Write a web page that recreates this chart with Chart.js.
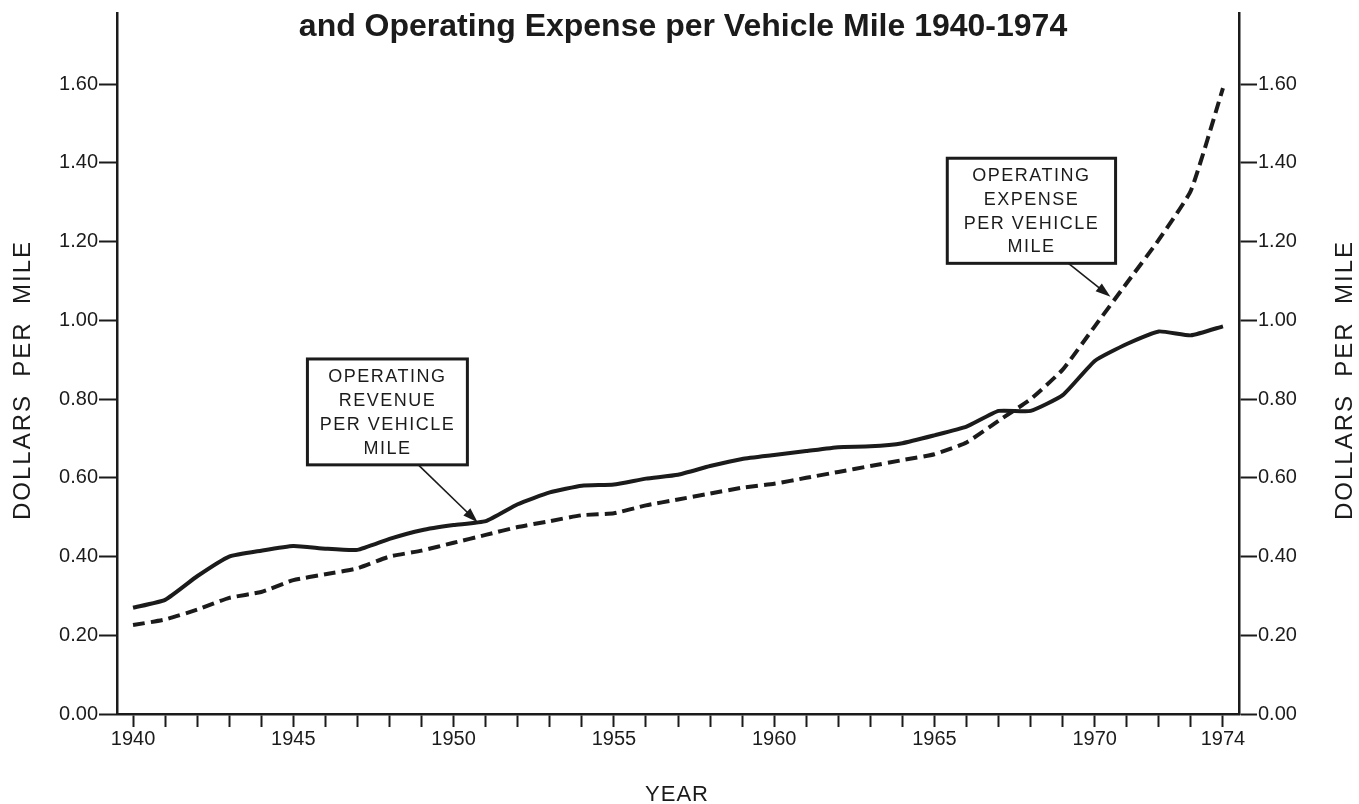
<!DOCTYPE html>
<html>
<head>
<meta charset="utf-8">
<script src="https://cdn.jsdelivr.net/npm/chart.js@4/dist/chart.umd.min.js"></script>
<style>
  html, body { margin: 0; padding: 0; background: #fff; }
  #wrap { width: 1359px; height: 804px; position: relative; }
</style>
</head>
<body>
<div id="wrap"><canvas id="chart"></canvas></div>
<script>
// values
const years = [1940, 1941, 1942, 1943, 1944, 1945, 1946, 1947, 1948, 1949,
               1950, 1951, 1952, 1953, 1954, 1955, 1956, 1957, 1958, 1959,
               1960, 1961, 1962, 1963, 1964, 1965, 1966, 1967, 1968, 1969,
               1970, 1971, 1972, 1973, 1974];

const revenue = [0.27, 0.29, 0.35, 0.40, 0.415, 0.427, 0.42, 0.417, 0.445, 0.467,
                 0.48, 0.49, 0.533, 0.563, 0.58, 0.583, 0.598, 0.608, 0.63, 0.648,
                 0.658, 0.668, 0.678, 0.68, 0.688, 0.708, 0.73, 0.77, 0.77, 0.81,
                 0.897, 0.94, 0.972, 0.962, 0.985];

const expense = [0.226, 0.24, 0.265, 0.295, 0.31, 0.34, 0.355, 0.37, 0.40, 0.415,
                 0.435, 0.455, 0.475, 0.49, 0.505, 0.51, 0.53, 0.545, 0.56, 0.575,
                 0.585, 0.60, 0.615, 0.63, 0.645, 0.66, 0.69, 0.745, 0.80, 0.875,
                 0.985, 1.095, 1.205, 1.33, 1.59];

const yTicks = [0, 0.2, 0.4, 0.6, 0.8, 1.0, 1.2, 1.4, 1.6];
const xLabelYears = [1940, 1945, 1950, 1955, 1960, 1965, 1970, 1974];

const titleText = 'and Operating Expense per Vehicle Mile 1940-1974';
const yTitle = 'DOLLARS  PER  MILE';
const xTitle = 'YEAR';
const revenueNote = ['OPERATING', 'REVENUE', 'PER VEHICLE', 'MILE'];
const expenseNote = ['OPERATING', 'EXPENSE', 'PER VEHICLE', 'MILE'];

const INK = '#1b1b1b';
const FONT = '"Liberation Sans", Arial, Helvetica, sans-serif';

// callout boxes, placed in data units (year, dollars)
const notes = [
    { lines: revenueNote, x0: 1945.44, x1: 1950.43, yTop: 0.902, yBot: 0.633,
      arrow: [1948.9, 0.633, 1950.75, 0.487] },
    { lines: expenseNote, x0: 1965.4, x1: 1970.65, yTop: 1.412, yBot: 1.145,
      arrow: [1969.18, 1.145, 1970.49, 1.06] },
];

const fixedSize = px => scale => {
    if (scale.isHorizontal()) scale.height = px; else scale.width = px;
};

const drawArrow = (ctx, x0, y0, x1, y1) => {
    const ang = Math.atan2(y1 - y0, x1 - x0);
    const len = 15, half = 5;
    ctx.beginPath();
    ctx.moveTo(x0, y0);
    ctx.lineTo(x1 - Math.cos(ang) * len * 0.8, y1 - Math.sin(ang) * len * 0.8);
    ctx.lineWidth = 1.6;
    ctx.strokeStyle = INK;
    ctx.stroke();
    ctx.beginPath();
    ctx.moveTo(x1, y1);
    ctx.lineTo(x1 - Math.cos(ang) * len + Math.sin(ang) * half, y1 - Math.sin(ang) * len - Math.cos(ang) * half);
    ctx.lineTo(x1 - Math.cos(ang) * len - Math.sin(ang) * half, y1 - Math.sin(ang) * len + Math.cos(ang) * half);
    ctx.closePath();
    ctx.fillStyle = INK;
    ctx.fill();
};

const decorations = {
    id: 'decorations',
    afterDraw(chart) {
        const ctx = chart.ctx;
        const xs = chart.scales.x, ys = chart.scales.y;
        ctx.save();
        ctx.fillStyle = INK;

        // title (first line is cut off in the scan)
        ctx.font = 'bold 32px ' + FONT;
        ctx.textAlign = 'center';
        ctx.textBaseline = 'middle';
        ctx.fillText(titleText, 683, 27);

        // axis titles
        ctx.font = '22px ' + FONT;
        ctx.letterSpacing = '1px';
        ctx.fillText(xTitle, 677, 795);
        ctx.font = '24px ' + FONT;
        ctx.letterSpacing = '2px';
        [23, 1345].forEach(cx => {
            ctx.save();
            ctx.translate(cx, 380);
            ctx.rotate(-Math.PI / 2);
            ctx.fillText(yTitle, 0, 0);
            ctx.restore();
        });

        // callouts
        ctx.font = '18px ' + FONT;
        ctx.letterSpacing = '1.5px';
        notes.forEach(n => {
            const l = xs.getPixelForValue(n.x0), r = xs.getPixelForValue(n.x1);
            const t = ys.getPixelForValue(n.yTop), b = ys.getPixelForValue(n.yBot);
            ctx.fillStyle = '#fff';
            ctx.fillRect(l, t, r - l, b - t);
            ctx.lineWidth = 3;
            ctx.strokeStyle = INK;
            ctx.strokeRect(l, t, r - l, b - t);
            ctx.fillStyle = INK;
            const step = (b - t - 10) / n.lines.length;
            n.lines.forEach((s, i) => ctx.fillText(s, (l + r) / 2, t + 6 + step * (i + 0.5)));
            const a = n.arrow;
            drawArrow(ctx, xs.getPixelForValue(a[0]), ys.getPixelForValue(a[1]),
                      xs.getPixelForValue(a[2]), ys.getPixelForValue(a[3]));
        });
        ctx.restore();
    }
};

const tickFont = { family: FONT, size: 20 };
const yAxis = position => ({
    type: 'linear',
    position,
    min: 0,
    max: 1.781,
    afterBuildTicks: scale => { scale.ticks = yTicks.map(v => ({ value: v })); },
    afterFit: fixedSize(position === 'left' ? 117 : 120),
    ticks: { color: INK, font: tickFont, padding: 1, callback: v => v.toFixed(2) },
    grid: { drawOnChartArea: false, tickLength: 18, tickWidth: 2, color: INK },
    border: { color: INK, width: 2.5 },
});

const chart = new Chart(document.getElementById('chart'), {
    type: 'line',
    data: {
        datasets: [
            {
                label: 'Operating revenue per vehicle mile',
                data: years.map((y, i) => ({ x: y, y: revenue[i] })),
                borderColor: INK,
                borderWidth: 4,
                pointRadius: 0,
                tension: 0.15,
                borderJoinStyle: 'round',
                yAxisID: 'y',
            },
            {
                label: 'Operating expense per vehicle mile',
                data: years.map((y, i) => ({ x: y, y: expense[i] })),
                borderColor: INK,
                borderWidth: 4,
                borderDash: [12, 6],
                pointRadius: 0,
                tension: 0.15,
                yAxisID: 'y',
            },
        ],
    },
    options: {
        responsive: true,
        maintainAspectRatio: false,
        animation: false,
        layout: { padding: { top: 5, left: 0, right: 0, bottom: 0 } },
        plugins: {
            legend: { display: false },
            tooltip: { enabled: false },
        },
        scales: {
            x: {
                type: 'linear',
                min: 1939.5,
                max: 1974.5,
                afterBuildTicks: scale => { scale.ticks = years.map(v => ({ value: v })); },
                afterFit: fixedSize(90),
                ticks: {
                    color: INK, font: tickFont, padding: 0, autoSkip: false, maxRotation: 0,
                    callback: v => xLabelYears.includes(v) ? String(v) : '',
                },
                grid: { drawOnChartArea: false, tickLength: 13, tickWidth: 2, color: INK },
                border: { color: INK, width: 2.5 },
            },
            y: yAxis('left'),
            y2: yAxis('right'),
        },
    },
    plugins: [decorations],
});
</script>
</body>
</html>
